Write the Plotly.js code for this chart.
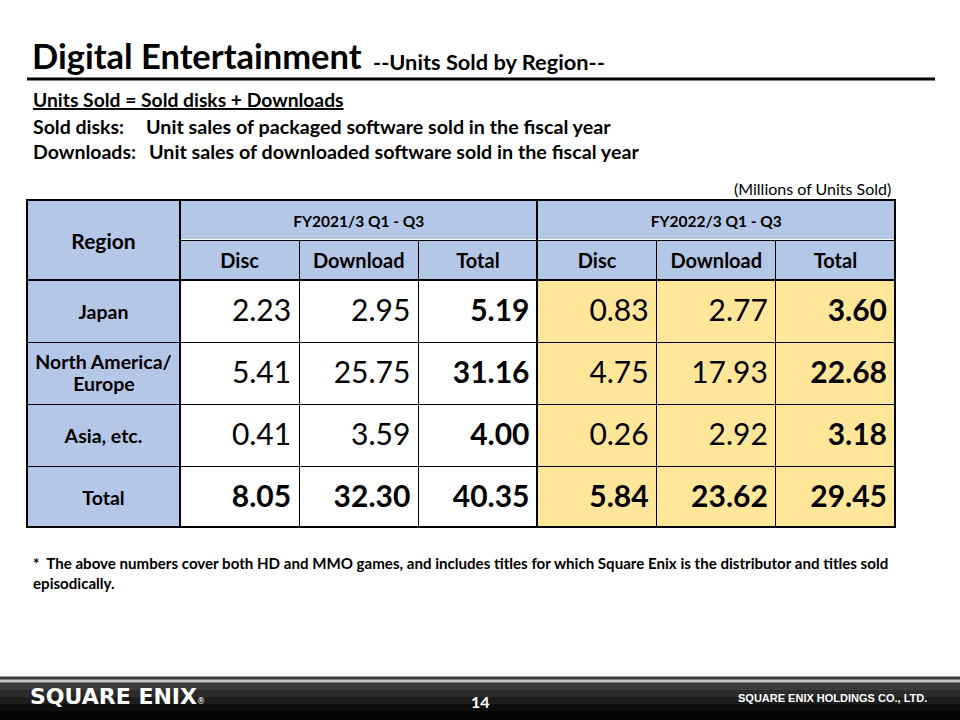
<!DOCTYPE html>
<html>
<head>
<meta charset="utf-8">
<script src="https://cdn.plot.ly/plotly-3.0.1.min.js"></script>
<style>html,body{margin:0;padding:0;background:#fff}#chart{width:960px;height:720px}</style>
</head>
<body>
<div id="chart"></div>
<script>
// ---- data ----
const regions = ["Japan", "North America/<br>Europe", "Asia, etc.", "Total"];
const periods = ["FY2021/3 Q1 - Q3", "FY2022/3 Q1 - Q3"];
const subHeads = ["Disc", "Download", "Total"];
const fy21Disc = [2.23, 5.41, 0.41, 8.05];
const fy21Download = [2.95, 25.75, 3.59, 32.30];
const fy21Total = [5.19, 31.16, 4.00, 40.35];
const fy22Disc = [0.83, 4.75, 0.26, 5.84];
const fy22Download = [2.77, 17.93, 2.92, 23.62];
const fy22Total = [3.60, 22.68, 3.18, 29.45];

// ---- style ----
const FONT = "Lato";
const BLUE = "#b4c7e7", YELLOW = "#ffe699", WHITE = "#ffffff", BLACK = "#000000";
const W = 960, H = 720;
const px = x => x / W, py = y => 1 - y / H;
const NBSP = "\u00a0";
// invisible strut (non-breaking space in a larger font) to centre text vertically in the table cells;
// the trailing <br> only stops the table from word-wrapping the markup
const strut = s => '<span style="font-size:' + s + 'px">' + NBSP + '</span>';
const centred = (txt, s) => strut(s) + txt + strut(s) + "<br>";

const ctx = document.createElement("canvas").getContext("2d");
const measure = (t, font) => { ctx.font = font; return ctx.measureText(t).width; };

const cols = [fy21Disc, fy21Download, fy21Total, fy22Disc, fy22Download, fy22Total];
const isTotalCol = [false, false, true, false, false, true];
const cellVals = cols.map((c, ci) => c.map((v, ri) => {
  const s = v.toFixed(2);
  const t = (isTotalCol[ci] || ri === regions.length - 1) ? "<b>" + s + "</b>" : s;
  return strut(33.4) + t + "<br>";
}));
const cellFill = cols.map((c, ci) => c.map(() => ci < 3 ? WHITE : YELLOW));

const REG_SIZE = 19.5;
const regFont = "bold " + REG_SIZE + "px " + FONT;
const regionVals = regions.map(r => {
  const lines = r.split("<br>");
  if (lines.length === 1) {
    return centred('<span style="font-size:' + REG_SIZE + 'px"><b>' + r + '</b></span>', 31.4);
  }
  // multi-line labels: table lines are left-aligned, so pad shorter lines to centre them
  const widths = lines.map(l => measure(l, regFont));
  const maxW = Math.max(...widths);
  const sp = measure(NBSP, regFont);
  return lines.map((l, i) => '<span style="font-size:' + REG_SIZE + 'px"><b>' +
    NBSP.repeat(Math.round((maxW - widths[i]) / 2 / sp)) + l + '</b></span>').join("<br>");
});

const tX0 = 27, tX1 = 895, regX = 180, tY0 = 200, hdrY = 240, bodyY = 280, tY1 = 528;

const traces = [
  { // region column
    type: "table",
    domain: { x: [px(tX0), px(regX)], y: [py(tY1), py(tY0)] },
    header: { values: [centred("<b>Region</b>", 42)], height: 80, fill: { color: BLUE },
      line: { color: BLACK, width: 1 }, align: "center",
      font: { family: FONT, size: 21, color: BLACK } },
    cells: { values: [regionVals], height: 62, fill: { color: BLUE },
      line: { color: BLACK, width: 1 }, align: "center",
      font: { family: FONT, size: 17.3, color: BLACK } }
  },
  { // period group header
    type: "table",
    domain: { x: [px(regX), px(tX1)], y: [py(hdrY), py(tY0)] },
    header: { values: periods.map(p => centred("<b>" + p + "</b>", 19.6)), height: 40, fill: { color: BLUE },
      line: { color: BLACK, width: 1 }, align: "center",
      font: { family: FONT, size: 15.5, color: BLACK } },
    cells: { values: [[], []] }
  },
  { // sub header + body
    type: "table",
    domain: { x: [px(regX), px(tX1)], y: [py(tY1), py(hdrY)] },
    header: { values: subHeads.concat(subHeads).map(s => centred("<b>" + s + "</b>", 19.9)), height: 40,
      fill: { color: BLUE }, line: { color: BLACK, width: 1 }, align: "center",
      font: { family: FONT, size: 20, color: BLACK } },
    cells: { values: cellVals, height: 62, fill: { color: cellFill },
      line: { color: BLACK, width: 1 }, align: "right",
      font: { family: FONT, size: 30, color: BLACK } }
  }
];

const shapes = [
  { type: "line", xref: "paper", yref: "paper", x0: px(27), x1: px(935), y0: py(79), y1: py(79), line: { color: BLACK, width: 3 } },
  { type: "rect", xref: "paper", yref: "paper", x0: px(tX0), x1: px(tX1), y0: py(527), y1: py(tY0), line: { color: BLACK, width: 2 } },
  { type: "line", xref: "paper", yref: "paper", x0: px(regX), x1: px(regX), y0: py(527), y1: py(tY0), line: { color: BLACK, width: 2 } },
  { type: "line", xref: "paper", yref: "paper", x0: px(537), x1: px(537), y0: py(527), y1: py(tY0), line: { color: BLACK, width: 2 } },
  { type: "line", xref: "paper", yref: "paper", x0: px(tX0), x1: px(tX1), y0: py(bodyY), y1: py(bodyY), line: { color: BLACK, width: 2 } },
  // footer bar
  { type: "rect", xref: "paper", yref: "paper", x0: 0, x1: 1, y0: 0, y1: py(676.5), fillcolor: "#3c3c3c", line: { width: 0 }, layer: "below" },
  { type: "rect", xref: "paper", yref: "paper", x0: 0, x1: 1, y0: 0, y1: py(690), fillcolor: "#2c2c2c", line: { width: 0 }, layer: "below" },
  { type: "rect", xref: "paper", yref: "paper", x0: 0, x1: 1, y0: 0, y1: py(697), fillcolor: "#1c1c1c", line: { width: 0 }, layer: "below" },
  { type: "rect", xref: "paper", yref: "paper", x0: 0, x1: 1, y0: 0, y1: py(704), fillcolor: "#0e0e0e", line: { width: 0 }, layer: "below" },
  { type: "rect", xref: "paper", yref: "paper", x0: 0, x1: 1, y0: 0, y1: py(711), fillcolor: "#040404", line: { width: 0 }, layer: "below" },
  { type: "rect", xref: "paper", yref: "paper", x0: 0, x1: 1, y0: py(682.5), y1: py(679.5), fillcolor: "#c4c4cc", line: { width: 0 }, layer: "below" }
];

const ann = (text, x, y, size, opts = {}) => Object.assign({
  text, xref: "paper", yref: "paper", x: px(x), y: py(y), showarrow: false,
  xanchor: "left", yanchor: "middle", font: { family: FONT, size, color: BLACK }
}, opts);

const annotations = [
  ann("<b>Digital Entertainment</b>", 30, 56, 34.5),
  ann("<b>--Units Sold by Region--</b>", 371, 61.5, 21.8),
  ann("<b>Units Sold = Sold disks + Downloads</b>", 31, 100, 19.3, { font: { family: FONT, size: 19.3, color: BLACK, lineposition: "under" } }),
  ann("<b>Sold disks:</b>", 31, 126, 19.5),
  ann("<b>Unit sales of packaged software sold in the fiscal year</b>", 144, 126, 19.7),
  ann("<b>Downloads:</b>", 31, 151, 19.5),
  ann("<b>Unit sales of downloaded software sold in the fiscal year</b>", 147, 151, 19.7),
  ann("(Millions of Units Sold)", 893, 189, 16, { xanchor: "right" }),
  ann("<b>*  The above numbers cover both HD and MMO games, and includes titles for which Square Enix is the distributor and titles sold</b>", 31, 563, 15.1),
  ann("<b>episodically.</b>", 31, 583, 15.1),
  ann("<b>SQUARE ENIX</b><span style=\"font-size:8px\">®</span>", 28, 696, 22, { font: { family: "DejaVu Sans", size: 22, color: "#ffffff" } }),
  ann("<b>14</b>", 480, 701, 16, { xanchor: "center", font: { family: FONT, size: 16, color: "#ffffff" } }),
  ann("<b>SQUARE ENIX HOLDINGS CO., LTD.</b>", 929, 698, 11, { xanchor: "right", font: { family: "Liberation Sans Narrow, Liberation Sans", size: 11, color: "#ffffff" } })
];

Plotly.newPlot("chart", traces, {
  width: W, height: H, margin: { l: 0, r: 0, t: 0, b: 0 },
  paper_bgcolor: "#ffffff", showlegend: false, shapes, annotations
}, { displayModeBar: false, staticPlot: true });
</script>
</body>
</html>
